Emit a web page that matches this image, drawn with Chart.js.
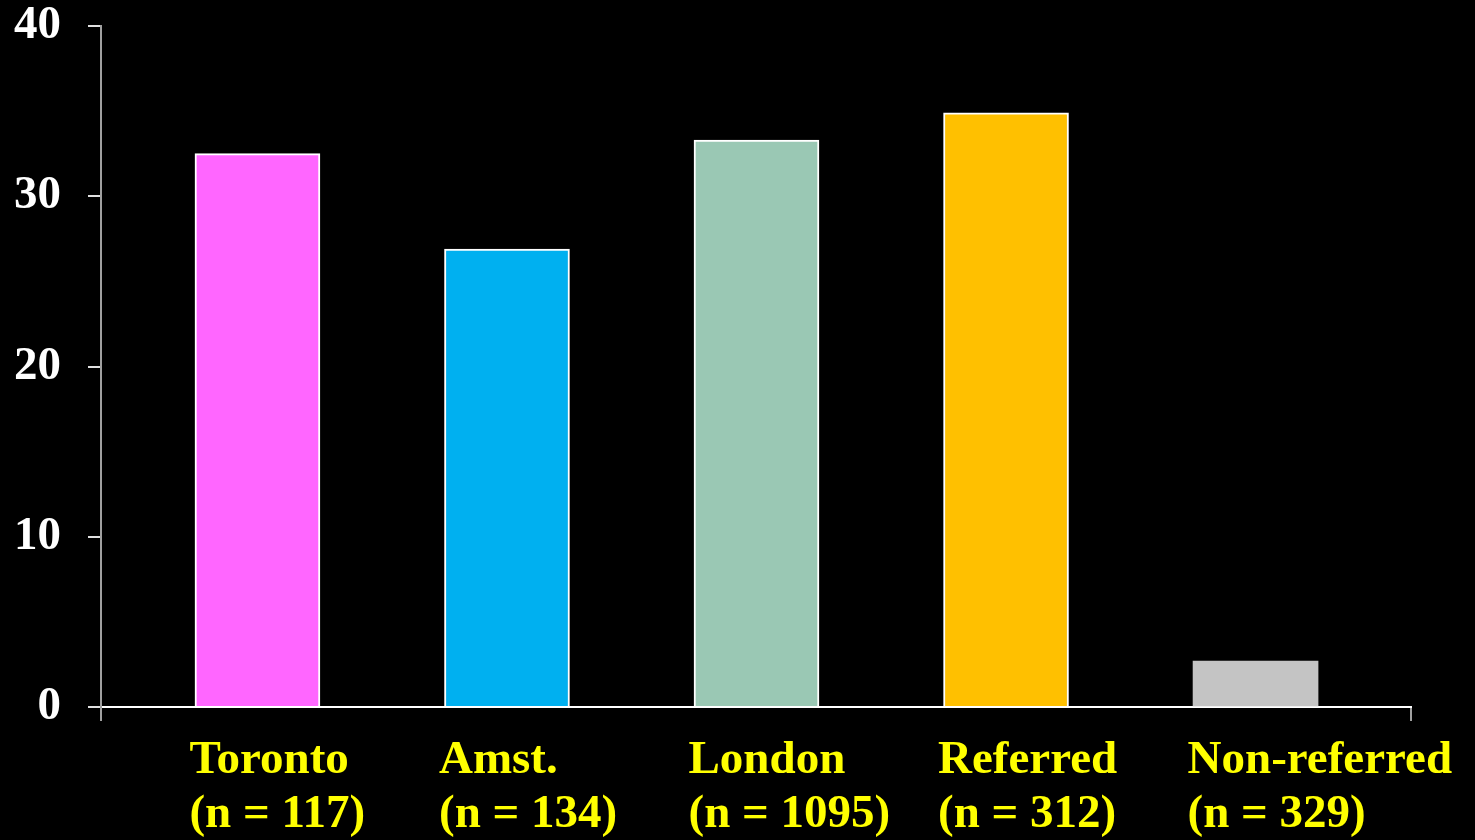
<!DOCTYPE html>
<html>
<head>
<meta charset="utf-8">
<script src="https://cdn.jsdelivr.net/npm/chart.js@4.4.1/dist/chart.umd.min.js"></script>
<style>
  html, body { margin: 0; padding: 0; background: #000; }
  #wrap { width: 1475px; height: 840px; }
</style>
</head>
<body>
<div id="wrap"><canvas id="c" width="1475" height="840"></canvas></div>
<script>
// Groups and their sample sizes
const categories = ['Toronto', 'Amst.', 'London', 'Referred', 'Non-referred'];
const sampleSizes = ['(n = 117)', '(n = 134)', '(n = 1095)', '(n = 312)', '(n = 329)'];
// Percentage per group
const values = [32.5, 26.9, 33.3, 34.9, 2.7];
const barColors = ['#FF66FF', '#00B0F0', '#9AC8B4', '#FFC000', '#C4C4C4'];
const barBorders = [2, 2, 2, 2, 0];
const yTicks = [0, 10, 20, 30, 40];

// x extent: half a slot plus a little margin on each side of the bars
const X_MIN = -0.627;
const X_MAX = categories.length - 1 + 0.623;

const serif = '"Liberation Serif", "Times New Roman", serif';

new Chart(document.getElementById('c'), {
  type: 'bar',
  data: {
    datasets: [{
      data: values.map((v, i) => ({ x: i, y: v })),
      backgroundColor: barColors,
      borderColor: '#FFFFFF',
      borderWidth: barBorders,
      borderSkipped: 'bottom',
      barThickness: 125
    }]
  },
  options: {
    responsive: false,
    animation: false,
    layout: { padding: { left: 0, right: 64, top: 26, bottom: 0 } },
    plugins: { legend: { display: false }, tooltip: { enabled: false } },
    scales: {
      x: {
        type: 'linear',
        offset: false,
        min: X_MIN,
        max: X_MAX,
        afterBuildTicks: (axis) => {
          axis.ticks = [{ value: X_MIN }]
            .concat(categories.map((_, i) => ({ value: i })))
            .concat([{ value: X_MAX }]);
        },
        afterFit: (axis) => {
          axis.height = 133;
          axis.paddingLeft = 0;
          axis.paddingRight = 0;
        },
        border: { display: true, color: '#FFFFFF', width: 2 },
        grid: {
          offset: false,
          drawOnChartArea: false,
          drawTicks: true,
          tickLength: 14,
          lineWidth: 2,
          color: (ctx) => {
            const v = ctx.tick ? ctx.tick.value : null;
            return (v === X_MIN || v === X_MAX) ? '#A0A0A0' : 'rgba(0,0,0,0)';
          }
        },
        ticks: {
          autoSkip: false,
          maxRotation: 0,
          minRotation: 0,
          align: 'start',
          labelOffset: -68,
          padding: 13,
          color: '#FFFF00',
          font: { family: serif, size: 47, weight: 'bold', lineHeight: 1.15 },
          callback: (value) => {
            const i = Math.round(value);
            if (Math.abs(value - i) > 1e-6 || i < 0 || i >= categories.length) return '';
            return [categories[i], sampleSizes[i]];
          }
        }
      },
      y: {
        min: 0,
        max: 40,
        afterBuildTicks: (axis) => { axis.ticks = yTicks.map(v => ({ value: v })); },
        afterFit: (axis) => {
          axis.width = 101;
          axis.paddingTop = 0;
          axis.paddingBottom = 0;
        },
        border: { display: true, color: '#A0A0A0', width: 2 },
        grid: {
          drawOnChartArea: false,
          drawTicks: true,
          tickLength: 13,
          lineWidth: 2,
          color: '#E0E0E0'
        },
        ticks: {
          padding: 27,
          color: '#FFFFFF',
          font: { family: serif, size: 47, weight: 'bold' }
        }
      }
    }
  }
});
</script>
</body>
</html>
